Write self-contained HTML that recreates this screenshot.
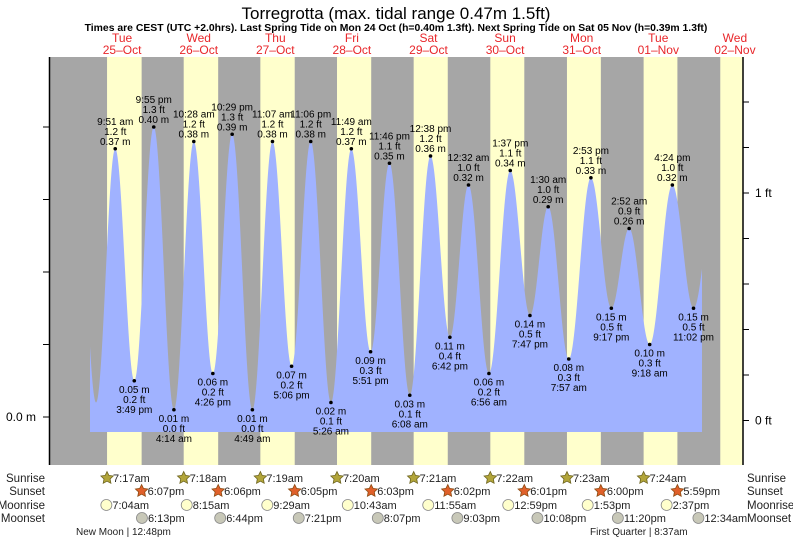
<!DOCTYPE html>
<html><head><meta charset="utf-8">
<style>
body{margin:0;background:#fff;}
svg{display:block;font-family:"Liberation Sans",sans-serif;}
</style></head>
<body>
<svg id="c" width="793" height="539" viewBox="0 0 793 539">
<text x="396" y="19" font-size="17" text-anchor="middle" fill="#000">Torregrotta (max. tidal range 0.47m 1.5ft)</text>
<text x="396" y="31" font-size="10.4" font-weight="bold" text-anchor="middle" fill="#000">Times are CEST (UTC +2.0hrs). Last Spring Tide on Mon 24 Oct (h=0.40m 1.3ft). Next Spring Tide on Sat 05 Nov (h=0.39m 1.3ft)</text>
<g id="bg"></g>
<g id="tide"></g>
<g id="labels"></g>
<g id="axes"></g>
<g id="bottom"></g>
</svg>
<script>
// ---- data ----
const dayNames = ["Tue","Wed","Thu","Fri","Sat","Sun","Mon","Tue","Wed"];
const dayDates = ["25-Oct","26-Oct","27-Oct","28-Oct","29-Oct","30-Oct","31-Oct","01-Nov","02-Nov"];
const sunrise = ["7:17am","7:18am","7:19am","7:20am","7:21am","7:22am","7:23am","7:24am","7:25am"];
const sunset = ["6:07pm","6:06pm","6:05pm","6:03pm","6:02pm","6:01pm","6:00pm","5:59pm"];
const moonrise = ["7:04am","8:15am","9:29am","10:43am","11:55am","12:59pm","1:53pm","2:37pm"];
const moonsetDay = [0,1,2,3,4,5,6,8];
const moonset = ["6:13pm","6:44pm","7:21pm","8:07pm","9:03pm","10:08pm","11:20pm","12:34am"];
// tides (day index from Tue 25-Oct)
const tideDay = [-1,0,0,0,0,1,1,1,1,2,2,2,2,3,3,3,3,4,4,4,5,5,5,5,6,6,6,6,7,7,7,7,8];
const tideTime = ["9:40 pm","3:50 am","9:51 am","3:49 pm","9:55 pm","4:14 am","10:28 am","4:26 pm","10:29 pm","4:49 am","11:07 am","5:06 pm","11:06 pm","5:26 am","11:49 am","5:51 pm","11:46 pm","6:08 am","12:38 pm","6:42 pm","12:32 am","6:56 am","1:37 pm","7:47 pm","1:30 am","7:57 am","2:53 pm","9:17 pm","2:52 am","9:18 am","4:24 pm","11:02 pm","5:30 am"];
const tideM = [0.38,0.02,0.37,0.05,0.40,0.01,0.38,0.06,0.39,0.01,0.38,0.07,0.38,0.02,0.37,0.09,0.35,0.03,0.36,0.11,0.32,0.06,0.34,0.14,0.29,0.08,0.33,0.15,0.26,0.10,0.32,0.15,0.30];
const tideFt = ["1.2","0.1","1.2","0.2","1.3","0.0","1.2","0.2","1.3","0.0","1.2","0.2","1.2","0.1","1.2","0.3","1.1","0.1","1.2","0.4","1.0","0.2","1.1","0.5","1.0","0.3","1.1","0.5","0.9","0.3","1.0","0.5","1.0"];
const tideLabeled = [0,0,1,1,1,1,1,1,1,1,1,1,1,1,1,1,1,1,1,1,1,1,1,1,1,1,1,1,1,1,1,1,0];
const leftTicks = [0,0.1,0.2,0.3,0.4,0.5];
const rightTicks = [0,0.2,0.4,0.6,0.8,1.0,1.2,1.4,1.6,1.8];

// ---- scales ----
const X0 = 83.8, DAYW = 76.6;
const PL = 50, PR = 743, PT = 57, PB = 465;
const FILL_L = 90, FILL_R = 702, FILL_B = 432;
function hrs(s){const m=s.trim().match(/(\d+):(\d+)\s*(am|pm)/);let h=+m[1]%12;if(m[3]==="pm")h+=12;return h+ +m[2]/60;}
function xOf(day,h){return X0+(day+h/24)*DAYW;}
function yM(v){return 417-v*725;}
function yFt(v){return 420.5-v*227.5;}
const NS="http://www.w3.org/2000/svg";
function mk(tag,attrs,parent,text){const e=document.createElementNS(NS,tag);for(const k in attrs)e.setAttribute(k,attrs[k]);if(text!==undefined)e.textContent=text;parent.appendChild(e);return e;}
const bg=document.getElementById("bg"),tide=document.getElementById("tide"),labels=document.getElementById("labels"),axes=document.getElementById("axes"),bottom=document.getElementById("bottom");

// background
const bgr=mk("rect",{x:PL,y:PT,width:PR-PL,height:PB-PT,fill:"#a6a6a6"},bg);


for(let d=0;d<9;d++){
  const x1=xOf(d,hrs(sunrise[d]));
  const x2=d<sunset.length?xOf(d,hrs(sunset[d])):PR;
  const r=mk("rect",{x:x1,y:PT,width:Math.min(x2,PR)-x1,height:PB-PT,fill:"#ffffcc"},bg);
  
  
  const cx=xOf(d,12);
  const t1=mk("text",{x:cx,y:42,"font-size":12,"text-anchor":"middle",fill:"#e8262a"},bg,dayNames[d]);
  
  
  const t2=mk("text",{x:cx,y:54,"font-size":12,"text-anchor":"middle",fill:"#e8262a"},bg,dayDates[d].replace("-","\u2013"));
  
  
}

// tide curve
const pts=tideM.map((v,i)=>({x:xOf(tideDay[i],hrs(tideTime[i])),v}));
function valAt(x){
  for(let i=0;i<pts.length-1;i++){
    if(x>=pts[i].x&&x<=pts[i+1].x){const f=(x-pts[i].x)/(pts[i+1].x-pts[i].x);return pts[i].v+(pts[i+1].v-pts[i].v)*(1-Math.cos(Math.PI*f))/2;}
  }
  return pts[pts.length-1].v;
}
let d=`M${FILL_L},${FILL_B}`;
for(let x=FILL_L;x<=FILL_R;x+=0.5){d+=` L${x},${yM(valAt(x)).toFixed(2)}`;}
d+=` L${FILL_R},${FILL_B} Z`;
const tp=mk("path",{d:d,fill:"#a0b2ff"},tide);



// labels
for(let i=0;i<pts.length;i++){
  if(!tideLabeled[i])continue;
  const p=pts[i],y=yM(p.v);
  const high=(i>0&&p.v>tideM[i-1]);
  const dot=mk("circle",{cx:p.x,cy:y,r:1.8,fill:"#000"},labels);
  
  
  const lines=high?[tideTime[i],tideFt[i]+" ft",p.v.toFixed(2)+" m"]:[p.v.toFixed(2)+" m",tideFt[i]+" ft",tideTime[i]];
  const base=high?[y-24,y-14,y-4]:[y+12,y+22,y+32];
  lines.forEach((s,k)=>{
    const t=mk("text",{x:p.x,y:base[k],"font-size":10,"text-anchor":"middle",fill:"#000"},labels,s);
    
    
  });
}

// axes
mk("line",{x1:PL-0.5,y1:PT,x2:PL-0.5,y2:PB,stroke:"#000","stroke-width":1.5},axes);
mk("line",{x1:PR,y1:PT,x2:PR,y2:PB,stroke:"#000","stroke-width":1.5},axes);
leftTicks.forEach(v=>{
  const y=yM(v);if(y<PT)return;
  mk("line",{x1:PL-7,y1:y,x2:PL-1,y2:y,stroke:"#000"},axes);
  if(v===0){const t=mk("text",{x:PL-14,y:y+4,"font-size":12,"text-anchor":"end"},axes,"0.0 m");}
});
rightTicks.forEach(v=>{
  const y=yFt(v);if(y<PT)return;
  mk("line",{x1:PR,y1:y,x2:PR+6,y2:y,stroke:"#000"},axes);
  if(Math.abs(v-Math.round(v))<1e-9){const t=mk("text",{x:PR+12,y:y+4,"font-size":12},axes,v.toFixed(0)+" ft");}
});

// bottom rows
const rows=[["Sunrise",478],["Sunset",491],["Moonrise",505],["Moonset",518]];
rows.forEach(r=>{
  const a=mk("text",{x:45,y:r[1]+4,"font-size":11.5,"text-anchor":"end",fill:"#222"},bottom,r[0]);
  
  
  const b=mk("text",{x:747,y:r[1]+4,"font-size":11.5,fill:"#222"},bottom,r[0]);
  
  
});
function star(cx,cy,fill,stroke){let p="";for(let k=0;k<10;k++){const a=-Math.PI/2+k*Math.PI/5,r=k%2?3.2:6.5;p+=(cx+r*Math.cos(a)).toFixed(1)+","+(cy+r*Math.sin(a)).toFixed(1)+" ";}return mk("polygon",{points:p,fill:fill,stroke:stroke,"stroke-width":0.8},bottom);}
function evt(x,y,kind,label,name){
  let ic;
  if(kind==="sr")ic=star(x,y,"#b2a53a","#6d6420");
  else if(kind==="ss")ic=star(x,y,"#e0602a","#8a4a10");
  else ic=mk("circle",{cx:x,cy:y,r:5.5,fill:kind==="mr"?"#ffffcc":"#c8c8b8",stroke:"#888","stroke-width":0.8},bottom);
  
  
  const t=mk("text",{x:x+6,y:y+4,"font-size":11,fill:"#222"},bottom,label);
  
  
}
for(let i=0;i<8;i++){
  evt(xOf(i,hrs(sunrise[i])),rows[0][1],"sr",sunrise[i],"sunrise");
  evt(xOf(i,hrs(sunset[i])),rows[1][1],"ss",sunset[i],"sunset");
  evt(xOf(i,hrs(moonrise[i])),rows[2][1],"mr",moonrise[i],"moonrise");
  evt(xOf(moonsetDay[i],hrs(moonset[i])),rows[3][1],"ms",moonset[i],"moonset");
}
const nm=mk("text",{x:76,y:535,"font-size":10,fill:"#222"},bottom,"New Moon | 12:48pm");


const fq=mk("text",{x:590,y:535,"font-size":10,fill:"#222"},bottom,"First Quarter | 8:37am");


</script>
</body></html>
